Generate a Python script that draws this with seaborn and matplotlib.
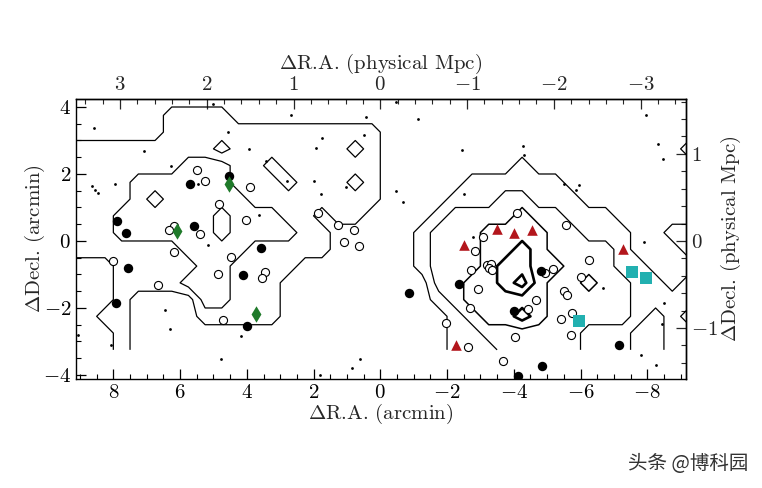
import numpy as np
import pandas as pd
import matplotlib
matplotlib.use("Agg")
import matplotlib.pyplot as plt
from matplotlib.ticker import MultipleLocator
import seaborn as sns

# density level map, 0.5 arcmin cells
# columns: dRA = 9.25 ... -9.25, rows: dDec = 4.25 ... -4.25, '.' = no coverage
density_rows = [
    "00000000000000000000000000000000000000",
    "00000011110000000000000000000000000000",
    "00000011111111111110000000000000000000",
    "11111111101111111010000000000000000001",
    "11111112221101111110000000010000000000",
    "11112222221110111010000011111100000000",
    "11112122222111111110000111221110000000",
    "11122222212221101100001222232211100000",
    "11122222212222110000012223333221110011",
    "11111112222111110000012223343222210001",
    "00011111221111000000012223443322211000",
    "00011112221110000000002233453223221101",
    "00010000221110000000001233333222221111",
    "00110000111110000000000123343222221010",
    "00010000000000000000000112222221110011",
    "00010000000000000000000111222221110011",
    "......................................",
    "......................................",
]
grid_ra = np.arange(9.25, -9.3, -0.5)
grid_dec = np.arange(4.25, -4.3, -0.5)
contour_levels = [0.5, 1.5, 2.5, 3.5, 4.5]
contour_widths = [0.9, 0.9, 1.1, 1.9, 1.9]

# galaxies (arcmin)
dots_ra = [8.58, 7.09, 6.27, 7.95, 8.65, 8.54, 8.46, 4.56, 3.92, 3.42, 2.81, 2.0, 1.78,
           3.62, 5.17, 5.46, 1.94, 1.75, 2.69, 0.50, 0.42, 1.03, 6.46, 6.31, 4.17, 4.77,
           0.62, 0.84, 1.80, 8.08, 9.06, 5.0, -0.48, -1.13, -2.45, -4.27, -4.30, -7.95,
           -8.32, -8.47, -0.48, -0.69, -2.5, -5.52, -5.87, -5.95, -2.78, -7.91, -6.68,
           -8.5, -8.43, -7.8, -8.26]
dots_dec = [3.37, 2.68, 2.24, 1.69, 1.63, 1.51, 1.43, 3.24, 2.76, 2.38, 1.78, 1.79, 1.40,
            0.77, -0.12, 1.71, 2.79, 3.07, 3.75, 3.15, 3.70, 1.61, -2.07, -2.62, -2.84, -3.51,
            -3.51, -3.79, -4.01, -3.11, -2.82, 4.1, 4.15, 3.65, 2.73, 2.83, 2.58, 3.75,
            2.91, 2.45, 1.49, 1.15, 1.39, 1.70, 1.51, 1.66, 0.13, -0.03, -1.39,
            -1.84, -2.49, -3.41, -3.69]

open_ra = [5.48, 5.26, 3.90, 4.82, 4.03, 6.19, 6.33, 5.39, 6.17, 4.47, 8.0, 4.85, 3.46,
           3.56, 6.65, 4.70, 1.86, 1.26, 0.80, 1.10, 0.65,
           -4.11, -3.07, -5.58, -2.85, -6.24, -2.71, -3.19, -3.32, -3.26, -3.34, -5.17,
           -4.94, -6.01, -2.94, -5.52, -5.59, -4.67, -4.44, -2.69, -5.74, -5.42, -5.71,
           -4.04, -1.97, -2.62, -3.69]
open_dec = [2.11, 1.78, 1.61, 1.10, 0.64, 0.44, 0.32, 0.21, -0.33, -0.47, -0.61, -1.00, -0.94,
            -1.12, -1.31, -2.37, 0.83, 0.48, 0.34, -0.02, -0.16,
            0.84, 0.12, 0.48, -0.30, -0.58, -0.86, -0.73, -0.68, -0.80, -0.88, -0.85,
            -0.95, -1.09, -1.42, -1.49, -1.60, -1.77, -2.02, -2.01, -2.15, -2.32, -2.80,
            -2.87, -2.44, -3.16, -3.59]

filled_ra = [4.53, 5.70, 7.89, 7.62, 5.57, 3.59, 7.57, 4.11, 7.92, 3.99,
             -0.85, -2.36, -4.81, -4.0, -7.15, -4.85, -4.12]
filled_dec = [1.95, 1.70, 0.59, 0.24, 0.44, -0.22, -0.82, -1.03, -1.85, -2.55,
              -1.55, -1.27, -0.90, -2.10, -3.11, -3.74, -4.02]

diamond_ra = [4.54, 6.09, 3.73]
diamond_dec = [1.69, 0.30, -2.17]

triangle_ra = [-2.52, -3.51, -4.0, -4.55, -7.26, -2.26]
triangle_dec = [-0.11, 0.35, 0.25, 0.32, -0.25, -3.11]

square_ra = [-7.53, -7.95, -5.96]
square_dec = [-0.93, -1.12, -2.40]

ARCMIN_PER_MPC = 2.6

sns.set_theme(style="ticks")
plt.rcParams["font.family"] = ["cmr10"]
plt.rcParams["mathtext.fontset"] = "cm"
plt.rcParams["axes.formatter.use_mathtext"] = True
plt.rcParams["xtick.direction"] = "in"
plt.rcParams["ytick.direction"] = "in"
plt.rcParams["axes.linewidth"] = 1.0
plt.rcParams["axes.edgecolor"] = "black"

fig = plt.figure(figsize=(7.62, 4.88), dpi=100)
ax = fig.add_axes([0.0997, 0.2234, 0.8005, 0.5738])

# contours
Z = np.array([[np.nan if ch == "." else float(ch) for ch in row] for row in density_rows])
assert Z.shape == (len(grid_dec), len(grid_ra))
ax.contour(grid_ra, grid_dec, np.ma.masked_invalid(Z), levels=contour_levels,
           colors="black", linewidths=contour_widths, zorder=1)

# galaxies
sns.scatterplot(x=dots_ra, y=dots_dec, ax=ax, s=4, color="black", linewidth=0, zorder=2)
sns.scatterplot(x=open_ra, y=open_dec, ax=ax, s=34, facecolor="white", edgecolor="black",
                linewidth=0.8, zorder=3)
sns.scatterplot(x=filled_ra, y=filled_dec, ax=ax, s=46, color="black", linewidth=0, zorder=3)
sns.scatterplot(x=diamond_ra, y=diamond_dec, ax=ax, marker="d", s=70, color="#1f7a2a",
                linewidth=0, zorder=4)
sns.scatterplot(x=triangle_ra, y=triangle_dec, ax=ax, marker="^", s=58, color="#b3161c",
                linewidth=0, zorder=4)
sns.scatterplot(x=square_ra, y=square_dec, ax=ax, marker="s", s=64, color="#22b0b0",
                linewidth=0, zorder=4)

ax.set_xlim(9.12, -9.16)
ax.set_ylim(-4.12, 4.24)
ax.xaxis.set_major_locator(MultipleLocator(2))
ax.xaxis.set_minor_locator(MultipleLocator(0.5))
ax.yaxis.set_major_locator(MultipleLocator(2))
ax.yaxis.set_minor_locator(MultipleLocator(0.5))
ax.tick_params(which="both", top=False, right=False, labelsize=15, colors="black")
ax.tick_params(which="major", length=7, width=0.9)
ax.tick_params(which="minor", length=3.5, width=0.8)
ax.set_xlabel(r"$\Delta$R.A. (arcmin)", fontsize=15, labelpad=0)
ax.set_ylabel(r"$\Delta$Decl. (arcmin)", fontsize=15, labelpad=-3)

def am2mpc(v):
    return v / ARCMIN_PER_MPC

def mpc2am(v):
    return v * ARCMIN_PER_MPC

top = ax.secondary_xaxis("top", functions=(am2mpc, mpc2am))
top.xaxis.set_major_locator(MultipleLocator(1))
top.xaxis.set_minor_locator(MultipleLocator(0.2))
top.tick_params(which="both", direction="in", labelsize=15)
top.tick_params(which="major", length=7, width=0.9)
top.tick_params(which="minor", length=3.5, width=0.8)
top.set_xlabel(r"$\Delta$R.A. (physical Mpc)", fontsize=15, labelpad=5)

right = ax.secondary_yaxis("right", functions=(am2mpc, mpc2am))
right.yaxis.set_major_locator(MultipleLocator(1))
right.yaxis.set_minor_locator(MultipleLocator(0.2))
right.tick_params(which="both", direction="in", labelsize=15)
right.tick_params(which="major", length=7, width=0.9)
right.tick_params(which="minor", length=3.5, width=0.8)
right.set_ylabel(r"$\Delta$Decl. (physical Mpc)", fontsize=15, labelpad=1)

fig.text(0.903, 0.051, "头条 @博科园", fontsize=14, color="#333333",
         family=["Noto Sans CJK SC", "DejaVu Sans"], ha="center", va="center")

fig.savefig("out.png", dpi=100)
plt.close(fig)
